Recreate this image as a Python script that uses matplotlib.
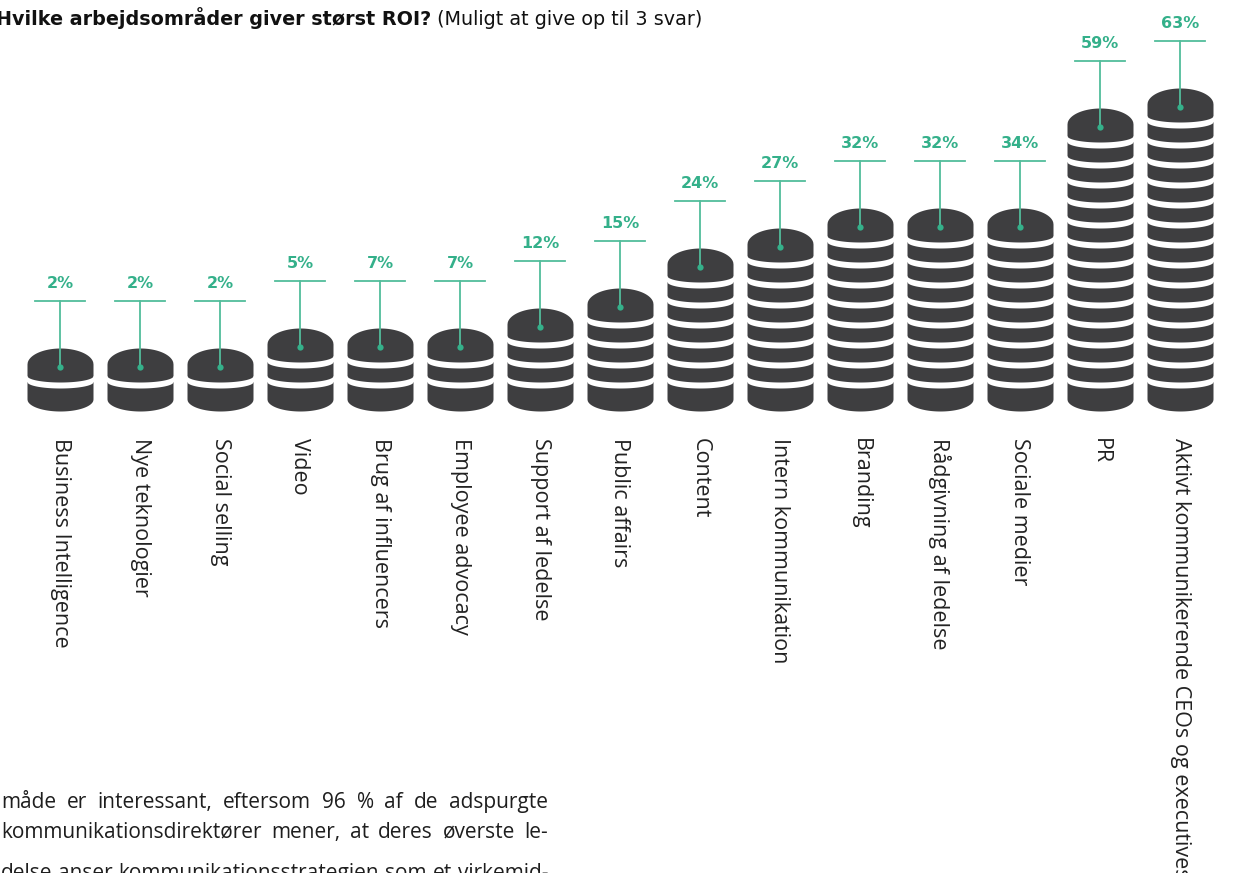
import numpy as np
import matplotlib
matplotlib.use("Agg")
import matplotlib.pyplot as plt
from matplotlib.transforms import IdentityTransform

# survey answers, one coin stack per work area
categories = ["Business Intelligence", "Nye teknologier", "Social selling", "Video",
              "Brug af influencers", "Employee advocacy", "Support af ledelse",
              "Public affairs", "Content", "Intern kommunikation", "Branding",
              "Rådgivning af ledelse", "Sociale medier", "PR",
              "Aktivt kommunikerende CEOs og executives"]
values = [2, 2, 2, 5, 7, 7, 12, 15, 24, 27, 32, 32, 34, 59, 63]

title_bold = "Hvilke arbejdsområder giver størst ROI?"
title_rest = " (Muligt at give op til 3 svar)"
body_lines = ["måde er interessant, eftersom 96 % af de adspurgte",
              "kommunikationsdirektører mener, at deres øverste le-",
              "delse anser kommunikationsstrategien som et virkemid-"]

COIN = "#3e3e40"
GREEN = "#34b08a"
LINE_GREEN = "#52bd9b"
PCT_PER_COIN = 4.85

W, H = 1233, 873
fig = plt.figure(figsize=(W / 100, H / 100), dpi=100)
# x in category units (80 px each), y in coin levels (20 px each)
ax = fig.add_axes([20 / W, 0, 1200 / W, 1])
ax.set_xlim(-0.5, 14.5)
ax.set_ylim((387 - H) / 20, 387 / 20)
ax.axis("off")

a = 0.4125        # coin half width
b_top = 0.8       # top face half height
b_bot = 0.6       # bottom curve
sag = 0.32        # curve of the gaps between coins
xs = np.linspace(-a, a, 300)
u = np.sqrt(1 - (xs / a) ** 2)
xs2 = np.linspace(-a - 0.03, a + 0.03, 300)
u2 = np.sqrt(np.clip(1 - (xs2 / a) ** 2, 0, None))

for i, (cat, v) in enumerate(zip(categories, values)):
    top = round(v / PCT_PER_COIN) + 1
    # stack silhouette
    ax.fill_between(i + xs, -0.6 - b_bot * u, top + 0.15 + b_top * u,
                    color=COIN, lw=0, zorder=2)
    # white gaps between coins
    for j in range(top):
        mid = j + 0.42 - sag * u2
        ax.fill_between(i + xs2, mid - 0.15, mid + 0.15, color="white", lw=0, zorder=3)

    # leader with value
    lvl = top + 3.3
    ax.plot([i, i], [top, lvl], color=LINE_GREEN, lw=1.3, zorder=4)
    ax.plot([i - 0.3125, i + 0.3125], [lvl, lvl], color=LINE_GREEN, lw=1.3, zorder=4)
    ax.plot(i, top, "o", ms=4.5, color=GREEN, mec="none", zorder=5)
    ax.text(i, lvl + 0.65, f"{v}%", ha="center", va="baseline", fontsize=11.5,
            fontweight="bold", color=GREEN, family="DejaVu Sans")

    ax.text(i, -2.55, cat, rotation=270, ha="center", va="top", fontsize=15.5,
            color="#222222", family="Open Sans")

# heading
t1 = fig.text(-4, H - 25, title_bold, transform=IdentityTransform(), va="baseline",
              fontsize=13.8, fontweight="bold", family="DejaVu Sans", color="#111111")
fig.canvas.draw()
r = fig.canvas.get_renderer()
bb = t1.get_window_extent(r)
fig.text(bb.x1, H - 25, title_rest, transform=IdentityTransform(), va="baseline",
         fontsize=13.8, family="DejaVu Sans", color="#111111")


def justified(line, x0, x1, y, **kw):
    words = line.split(" ")
    widths = []
    for w in words:
        t = fig.text(0, 0, w, **kw)
        widths.append(t.get_window_extent(r).width)
        t.remove()
    gap = (x1 - x0 - sum(widths)) / (len(words) - 1)
    x = x0
    for w, wd in zip(words, widths):
        fig.text(x, y, w, transform=IdentityTransform(), va="baseline", **kw)
        x += wd + gap


for k, line in enumerate(body_lines):
    base = 808 + 30 * k + (11 if k == 2 else 0)
    justified(line, 1, 548, H - base, fontsize=15, family="Open Sans",
              color="#1e1e1e")

fig.savefig("out.png", dpi=100)
